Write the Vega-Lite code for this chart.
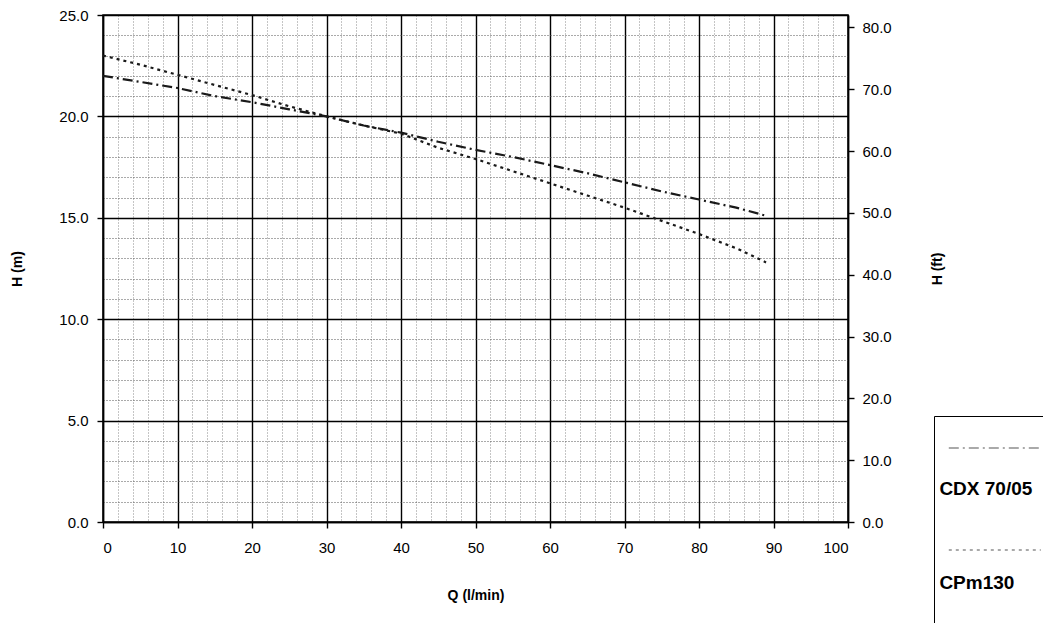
{
  "$schema": "https://vega.github.io/schema/vega-lite/v6.json",
  "width": 745,
  "height": 507,
  "autosize": {"type": "none"},
  "padding": {"left": 103, "top": 15, "right": 195, "bottom": 101},
  "background": "white",
  "config": {
    "font": "Liberation Sans",
    "view": {"stroke": "black", "strokeWidth": 1.5}
  },
  "datasets": {
    "curves": [
      {"pump": "CDX 70/05", "Q": 0, "H": 22.0},
      {"pump": "CDX 70/05", "Q": 5, "H": 21.7},
      {"pump": "CDX 70/05", "Q": 10, "H": 21.4},
      {"pump": "CDX 70/05", "Q": 15, "H": 21.0},
      {"pump": "CDX 70/05", "Q": 20, "H": 20.7},
      {"pump": "CDX 70/05", "Q": 25, "H": 20.35},
      {"pump": "CDX 70/05", "Q": 30, "H": 20.0},
      {"pump": "CDX 70/05", "Q": 35, "H": 19.55},
      {"pump": "CDX 70/05", "Q": 40, "H": 19.2},
      {"pump": "CDX 70/05", "Q": 45, "H": 18.75},
      {"pump": "CDX 70/05", "Q": 50, "H": 18.35},
      {"pump": "CDX 70/05", "Q": 55, "H": 18.0},
      {"pump": "CDX 70/05", "Q": 60, "H": 17.6},
      {"pump": "CDX 70/05", "Q": 65, "H": 17.2},
      {"pump": "CDX 70/05", "Q": 70, "H": 16.75},
      {"pump": "CDX 70/05", "Q": 75, "H": 16.3},
      {"pump": "CDX 70/05", "Q": 80, "H": 15.9},
      {"pump": "CDX 70/05", "Q": 85, "H": 15.5},
      {"pump": "CDX 70/05", "Q": 89, "H": 15.1},
      {"pump": "CPm130", "Q": 0, "H": 23.0},
      {"pump": "CPm130", "Q": 5, "H": 22.55},
      {"pump": "CPm130", "Q": 10, "H": 22.05},
      {"pump": "CPm130", "Q": 15, "H": 21.55},
      {"pump": "CPm130", "Q": 20, "H": 21.05},
      {"pump": "CPm130", "Q": 25, "H": 20.5},
      {"pump": "CPm130", "Q": 30, "H": 20.0},
      {"pump": "CPm130", "Q": 35, "H": 19.55},
      {"pump": "CPm130", "Q": 40, "H": 19.15},
      {"pump": "CPm130", "Q": 45, "H": 18.45},
      {"pump": "CPm130", "Q": 50, "H": 17.9},
      {"pump": "CPm130", "Q": 55, "H": 17.3},
      {"pump": "CPm130", "Q": 60, "H": 16.7},
      {"pump": "CPm130", "Q": 65, "H": 16.1},
      {"pump": "CPm130", "Q": 70, "H": 15.5},
      {"pump": "CPm130", "Q": 75, "H": 14.85},
      {"pump": "CPm130", "Q": 80, "H": 14.2},
      {"pump": "CPm130", "Q": 85, "H": 13.5},
      {"pump": "CPm130", "Q": 89, "H": 12.8}
    ],
    "ft": [{"ft": 0}, {"ft": 82.02}]
  },
  "layer": [
    {
      "data": {"name": "curves"},
      "mark": {"type": "line", "strokeWidth": 2.2, "color": "#1a1a1a"},
      "encoding": {
        "x": {
          "field": "Q", "type": "quantitative",
          "scale": {"domain": [0, 100], "nice": false, "zero": false},
          "axis": {
            "values": [0,2,4,6,8,10,12,14,16,18,20,22,24,26,28,30,32,34,36,38,40,42,44,46,48,50,52,54,56,58,60,62,64,66,68,70,72,74,76,78,80,82,84,86,88,90,92,94,96,98,100],
            "labelExpr": "datum.value % 10 === 0 ? datum.label : ''",
            "grid": true,
            "gridColor": {"condition": {"test": "datum.value % 10 === 0", "value": "black"}, "value": "#8a8a8a"},
            "gridDash": {"condition": {"test": "datum.value % 10 === 0", "value": []}, "value": [1, 2]},
            "gridWidth": {"condition": {"test": "datum.value % 10 === 0", "value": 1.4}, "value": 1},
            "tickOpacity": {"condition": {"test": "datum.value % 10 === 0", "value": 1}, "value": 0},
            "tickColor": "black", "tickSize": 6, "tickWidth": 1.4,
            "domainColor": "black", "domainWidth": 1.5,
            "labelFontSize": 15, "labelColor": "black", "labelPadding": 12,
            "title": "Q (l/min)", "titleFontSize": 14, "titleFontWeight": "bold", "titleColor": "black", "titlePadding": 33
          }
        },
        "y": {
          "field": "H", "type": "quantitative",
          "scale": {"domain": [0, 25], "nice": false, "zero": false},
          "axis": {
            "values": [0,1,2,3,4,5,6,7,8,9,10,11,12,13,14,15,16,17,18,19,20,21,22,23,24,25],
            "labelExpr": "datum.value % 5 === 0 ? format(datum.value, '.1f') : ''",
            "grid": true,
            "gridColor": {"condition": {"test": "datum.value % 5 === 0", "value": "black"}, "value": "#555555"},
            "gridDash": {"condition": {"test": "datum.value % 5 === 0", "value": []}, "value": [1, 2]},
            "gridWidth": {"condition": {"test": "datum.value % 5 === 0", "value": 1.4}, "value": 1},
            "tickOpacity": {"condition": {"test": "datum.value % 5 === 0", "value": 1}, "value": 0},
            "tickColor": "black", "tickSize": 6, "tickWidth": 1.4,
            "domainColor": "black", "domainWidth": 1.5,
            "labelFontSize": 15, "labelColor": "black", "labelPadding": 9,
            "title": "H (m)", "titleFontSize": 14, "titleFontWeight": "bold", "titleColor": "black", "titlePadding": 34
          }
        },
        "strokeDash": {
          "field": "pump", "type": "nominal",
          "scale": {"domain": ["CDX 70/05", "CPm130"], "range": [[10, 4, 2, 4], [3, 4]]},
          "legend": {
            "orient": "none", "legendX": 831, "legendY": 401,
            "title": " ", "titleFontSize": 12, "titlePadding": 4,
            "symbolType": "M-5,0H5", "symbolSize": 338.6, "symbolStrokeWidth": 1.2, "symbolStrokeColor": "#555555",
            "symbolOffset": 44.8,
            "labelFontSize": 19, "labelFontWeight": "bold", "labelColor": "black",
            "labelOffset": -65.4, "labelBaseline": "top",
            "labelExpr": "datum.label == 'CPm130' ? ['CPm130', ' ', ' '] : datum.label",
            "rowPadding": 41,
            "padding": 6, "strokeColor": "black", "fillColor": "white",
            "encoding": {"labels": {"dy": {"condition": {"test": "datum.label == 'CPm130'", "value": 24}, "value": 32}}}
          }
        }
      }
    },
    {
      "data": {"name": "ft"},
      "mark": {"type": "point", "opacity": 0},
      "encoding": {
        "y": {
          "field": "ft", "type": "quantitative",
          "scale": {"domain": [0, 82.02], "nice": false, "zero": false},
          "axis": {
            "orient": "right",
            "values": [0, 10, 20, 30, 40, 50, 60, 70, 80],
            "format": ".1f",
            "grid": false,
            "tickColor": "black", "tickSize": 6, "tickWidth": 1.4,
            "domainColor": "black", "domainWidth": 1.5,
            "labelFontSize": 15, "labelColor": "black", "labelPadding": 8,
            "title": "H (ft)", "titleFontSize": 14, "titleFontWeight": "bold", "titleColor": "black",
            "titleAngle": 270, "titlePadding": 53
          }
        }
      }
    }
  ],
  "resolve": {"scale": {"y": "independent"}}
}
